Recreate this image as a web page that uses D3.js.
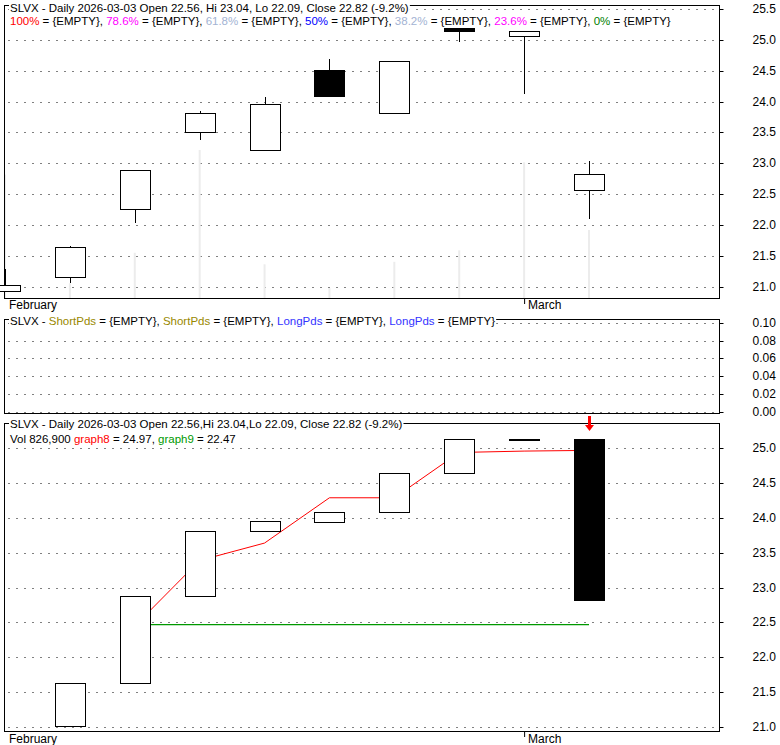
<!DOCTYPE html>
<html>
<head>
<meta charset="utf-8">
<script src="https://cdn.jsdelivr.net/npm/d3@7"></script>
<style>
  body { margin: 0; background: #fff; }
  svg { display: block; font-family: "Liberation Sans", Arial, sans-serif; font-size: 12px; }
  .legend { font-size: 11.5px; }
</style>
</head>
<body>
<script>
// data
const dates = ["2026-02-18", "2026-02-19", "2026-02-20", "2026-02-23", "2026-02-24",
               "2026-02-25", "2026-02-26", "2026-02-27", "2026-03-02", "2026-03-03"];
const opens  = [20.92, 21.14, 22.25, 23.50, 23.21, 24.51, 23.81, 25.19, 25.06, 22.56];
const highs  = [21.29, 21.65, 22.88, 23.85, 24.07, 24.69, 24.65, 25.20, 25.15, 23.04];
const lows   = [20.92, 21.05, 22.03, 23.38, 23.21, 24.09, 23.81, 24.97, 24.13, 22.09];
const closes = [21.02, 21.63, 22.88, 23.81, 23.95, 24.09, 24.65, 25.14, 25.13, 22.82];
const volumes = [1500000, 180000, 550000, 1800000, 410000, 120000, 440000, 580000, 1650000, 826900];
const graph8 = [null, null, 22.45, 23.39, 23.64, 24.29, 24.29, 24.94, 24.96, 24.97];
const graph9 = [null, null, 22.47, 22.47, 22.47, 22.47, 22.47, 22.47, 22.47, 22.47];

const priceTicksTop = [21.0, 21.5, 22.0, 22.5, 23.0, 23.5, 24.0, 24.5, 25.0, 25.5];
const priceTicksBot = [21.0, 21.5, 22.0, 22.5, 23.0, 23.5, 24.0, 24.5, 25.0];
const midTicks = [0, 0.02, 0.04, 0.06, 0.08, 0.10];
const monthLabels = [{ date: "2026-02-18", label: "February", tick: false },
                     { date: "2026-03-02", label: "March", tick: true }];

const fibLegend = [
    { label: "100%", color: "#ff0000" },
    { label: "78.6%", color: "#ff00ff" },
    { label: "61.8%", color: "#a3b3d3" },
    { label: "50%", color: "#0000ff" },
    { label: "38.2%", color: "#a3b3d3" },
    { label: "23.6%", color: "#ff00ff" },
    { label: "0%", color: "#008000" }
];
const pdsLegend = [
    { label: "ShortPds", color: "#998800" },
    { label: "ShortPds", color: "#998800" },
    { label: "LongPds", color: "#3333ff" },
    { label: "LongPds", color: "#3333ff" }
];

const titleText = "SLVX - Daily 2026-03-03 Open 22.56, Hi 23.04, Lo 22.09, Close 22.82 (-9.2%)";
const titleText2 = "SLVX - Daily 2026-03-03 Open 22.56,Hi 23.04,Lo 22.09, Close 22.82 (-9.2%)";

const svg = d3.select("body").append("svg")
    .attr("width", 780)
    .attr("height", 745);

const frameL = 4.5, frameR = 719.5;
const panels = {
    top: { top: 5.5, bottom: 298.5 },
    mid: { top: 319.5, bottom: 413.5 },
    bot: { top: 423.5, bottom: 731.5 }
};

// scales
const x = d3.scalePoint().domain(dates).range([5, 589]);
const yTop = d3.scaleLinear().domain([21, 25]).range([286.5, 40]);
const yMid = d3.scaleLinear().domain([0, 0.1]).range([411.5, 323]);
const yBot = d3.scaleLinear().domain([21, 25]).range([727, 448.3]);
const yVol = d3.scaleLinear().domain([0, 826900]).range([298, 230]);

const halfBody = 15;

// dotted grid + right axis
function grid(y, ticks, fmt) {
    svg.append("g")
        .selectAll("line")
        .data(ticks)
        .enter().append("line")
        .attr("x1", frameL + 4)
        .attr("x2", frameR)
        .attr("y1", d => Math.round(y(d)) + 0.5)
        .attr("y2", d => Math.round(y(d)) + 0.5)
        .attr("stroke", "#000")
        .attr("stroke-dasharray", "1,7");

    const ax = svg.append("g")
        .attr("transform", "translate(" + frameR + ",0)")
        .call(d3.axisRight(y).tickValues(ticks).tickFormat(fmt).tickSize(4).tickPadding(29));
    ax.select(".domain").remove();
    ax.selectAll(".tick").attr("transform", d => "translate(0," + (Math.round(y(d)) + 0.5) + ")");
    ax.selectAll("text")
        .attr("font-family", "Liberation Sans, Arial, sans-serif")
        .attr("font-size", "12px")
        .attr("fill", "#000");
}

grid(yTop, priceTicksTop, d3.format(".1f"));
grid(yMid, midTicks, d3.format(".2f"));
grid(yBot, priceTicksBot, d3.format(".1f"));

// volume bars behind candles
svg.append("g")
    .selectAll("rect")
    .data(dates)
    .enter().append("rect")
    .attr("x", d => x(d) - 1)
    .attr("y", (d, i) => yVol(volumes[i]))
    .attr("width", 2)
    .attr("height", (d, i) => yVol(0) - yVol(volumes[i]))
    .attr("fill", "#ececec");

// frames
Object.values(panels).forEach(p => {
    svg.append("rect")
        .attr("x", frameL)
        .attr("y", p.top)
        .attr("width", frameR - frameL)
        .attr("height", p.bottom - p.top)
        .attr("fill", "none")
        .attr("stroke", "#000");
});

// top panel candles
const candles = svg.append("g").attr("shape-rendering", "crispEdges");
candles.selectAll("line")
    .data(dates)
    .enter().append("line")
    .attr("x1", d => x(d) + 0.5)
    .attr("x2", d => x(d) + 0.5)
    .attr("y1", (d, i) => yTop(highs[i]))
    .attr("y2", (d, i) => yTop(lows[i]))
    .attr("stroke", "#000");

candles.selectAll("rect")
    .data(dates)
    .enter().append("rect")
    .attr("x", d => x(d) - halfBody + 0.5)
    .attr("y", (d, i) => yTop(Math.max(opens[i], closes[i])))
    .attr("width", halfBody * 2)
    .attr("height", (d, i) => Math.max(1, yTop(Math.min(opens[i], closes[i])) - yTop(Math.max(opens[i], closes[i]))))
    .attr("fill", (d, i) => closes[i] < opens[i] ? "#000" : "#fff")
    .attr("stroke", "#000");

// bottom panel lines (behind boxes)
const line8 = d3.line()
    .defined(d => d[1] != null)
    .x(d => x(d[0]))
    .y(d => yBot(d[1]));

svg.append("path")
    .datum(dates.map((d, i) => [d, graph8[i]]))
    .attr("d", line8)
    .attr("fill", "none")
    .attr("stroke", "#ff0000")
    .attr("stroke-width", 1);

svg.append("path")
    .datum(dates.map((d, i) => [d, graph9[i]]))
    .attr("d", line8)
    .attr("fill", "none")
    .attr("stroke", "#009900")
    .attr("stroke-width", 1.3);

// bottom panel: close-to-close boxes
const moves = dates.slice(1).map((d, i) => ({ date: d, from: closes[i], to: closes[i + 1] }));
svg.append("g")
    .attr("shape-rendering", "crispEdges")
    .selectAll("rect")
    .data(moves)
    .enter().append("rect")
    .attr("x", d => x(d.date) - halfBody + 0.5)
    .attr("y", d => Math.round(yBot(Math.max(d.from, d.to))) + 0.5)
    .attr("width", halfBody * 2)
    .attr("height", d => Math.max(1, Math.round(yBot(Math.min(d.from, d.to)) - yBot(Math.max(d.from, d.to)))))
    .attr("fill", d => d.to < d.from ? "#000" : "#fff")
    .attr("stroke", "#000");

// red signal arrow over the last bar
const lastX = x(dates[dates.length - 1]);
svg.append("rect")
    .attr("x", lastX - 1)
    .attr("y", 416)
    .attr("width", 3)
    .attr("height", 10)
    .attr("fill", "#ff0000");
svg.append("path")
    .attr("d", "M" + (lastX - 4) + ",425L" + (lastX + 5) + ",425L" + (lastX + 0.5) + ",431Z")
    .attr("fill", "#ff0000");

// month labels
[[298, 309], [731, 743]].forEach(pos => {
    monthLabels.forEach(m => {
        if (m.tick) {
            svg.append("line")
                .attr("x1", x(m.date) + 0.5).attr("x2", x(m.date) + 0.5)
                .attr("y1", pos[0]).attr("y2", pos[0] + 6)
                .attr("stroke", "#000");
        }
        svg.append("text")
            .attr("x", m.tick ? x(m.date) + 4 : 9)
            .attr("y", pos[1])
            .text(m.label);
    });
});

// text with white backing so the frame line is cut
function label(xp, yp, parts) {
    const g = svg.append("g").attr("class", "legend");
    const t = g.append("text").attr("x", xp).attr("y", yp);
    parts.forEach(p => {
        t.append("tspan").attr("fill", p.color || "#000").text(p.text);
    });
    const bb = t.node().getBBox();
    g.insert("rect", "text")
        .attr("x", bb.x - 1)
        .attr("y", bb.y)
        .attr("width", bb.width + 2)
        .attr("height", bb.height)
        .attr("fill", "#fff");
}

label(10, 12, [{ text: titleText }]);
const fibParts = [];
fibLegend.forEach((f, i) => {
    fibParts.push({ text: f.label, color: f.color });
    fibParts.push({ text: " = {EMPTY}" + (i < fibLegend.length - 1 ? ", " : "") });
});
svg.append("text").attr("class", "legend").attr("x", 10).attr("y", 25)
    .selectAll("tspan").data(fibParts).enter().append("tspan")
    .attr("fill", d => d.color || "#000")
    .text(d => d.text);

const pdsParts = [{ text: "SLVX - " }];
pdsLegend.forEach((f, i) => {
    pdsParts.push({ text: f.label, color: f.color });
    pdsParts.push({ text: " = {EMPTY}" + (i < pdsLegend.length - 1 ? ", " : "") });
});
label(10, 325, pdsParts);

label(10, 428, [{ text: titleText2 }]);
svg.append("text").attr("class", "legend").attr("x", 10).attr("y", 443)
    .selectAll("tspan")
    .data([{ text: "Vol 826,900 " }, { text: "graph8", color: "#ff0000" }, { text: " = 24.97, " },
           { text: "graph9", color: "#009900" }, { text: " = 22.47" }])
    .enter().append("tspan")
    .attr("fill", d => d.color || "#000")
    .text(d => d.text);
</script>
</body>
</html>
